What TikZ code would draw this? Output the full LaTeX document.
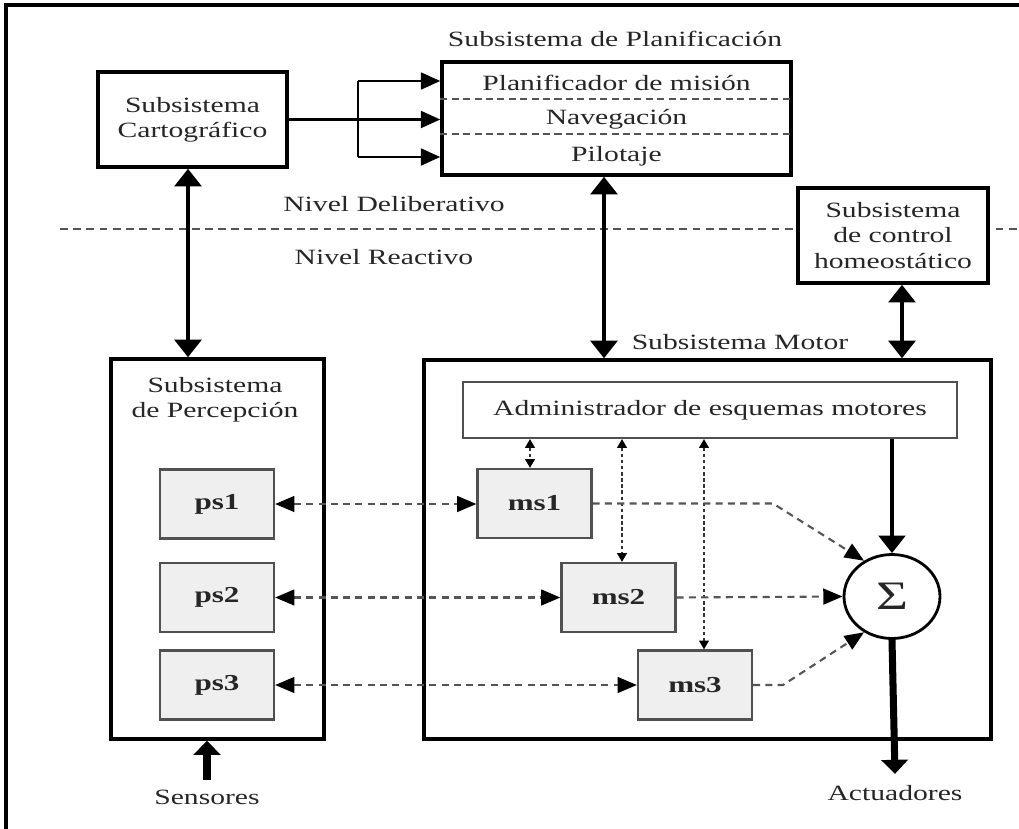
\documentclass[tikz,border=0pt]{standalone}
\usepackage{fontspec}
\setmainfont{Liberation Serif}[FakeStretch=1.36]
\usetikzlibrary{arrows.meta,shapes.geometric,calc}
\definecolor{ink}{HTML}{262626}
\definecolor{dashgray}{HTML}{555555}
\definecolor{schemafill}{HTML}{EFEFEF}
\definecolor{schemaline}{HTML}{505050}

\begin{document}
\begin{tikzpicture}[x=0.02cm, y=-0.02cm,
  font=\fontsize{12.4}{14.4}\selectfont, text=ink,
  outerbox/.style={draw=black, line width=2pt, fill=white, inner sep=0pt},
  schema/.style={draw=schemaline, line width=1.3pt, fill=schemafill, inner sep=0pt,
    minimum width=2.28cm, minimum height=1.38cm, font=\fontsize{13}{15}\selectfont\bfseries},
  adminbox/.style={draw=schemaline, line width=1.2pt, fill=white, inner sep=0pt},
  divider/.style={draw=dashgray, line width=1pt, dash pattern=on 4pt off 2.5pt},
  sepline/.style={draw=dashgray, line width=1pt, dash pattern=on 4.5pt off 3pt},
  bigtwo/.style={line width=2.5pt, {Triangle[length=10pt,width=15pt]}-{Triangle[length=10pt,width=15pt]}},
  bigone/.style={line width=2.5pt, -{Triangle[length=10pt,width=15pt]}},
  heavyone/.style={line width=4pt, -{Triangle[length=8pt,width=15pt]}},
  feed/.style={line width=1.6pt, -{Triangle[length=11pt,width=9.5pt]}},
  link/.style={draw=dashgray, line width=1.2pt, dash pattern=on 4pt off 3pt,
    {Triangle[length=11pt,width=9pt,color=black]}-{Triangle[length=11pt,width=9pt,color=black]}},
  toSum/.style={draw=dashgray, line width=1.2pt, dash pattern=on 4pt off 3pt,
    -{Triangle[length=11pt,width=9pt,color=black]}},
  select/.style={draw=black!80, line width=1pt, dash pattern=on 2pt off 1.5pt,
    {Triangle[length=5pt,width=5.5pt,color=black]}-{Triangle[length=5pt,width=5.5pt,color=black]}}
]
\useasboundingbox (0,0) rectangle (1019,829);

% page frame
\draw[line width=1.8pt] (6,829) -- (6,5) -- (1019,5);

% boundary between the deliberative and reactive levels
\coordinate (sepL) at (60,229);
\coordinate (sepR) at (1019,229);
\draw[sepline] (sepL) -- (sepR);
\node (delib) at (394,204) {Nivel Deliberativo};
\node (react) at (384,257) {Nivel Reactivo};

% deliberative level
\node[outerbox, minimum width=3.78cm, minimum height=1.9cm, align=center] (cart) at (192.5,119.5) {Subsistema\\Cartográfico};
\node[outerbox, minimum width=6.98cm, minimum height=2.26cm] (plan) at (616.5,118.5) {};
\node (plantitle) at (615,39) {Subsistema de Planificación};
\node (mision) at (616.5,83) {Planificador de misión};
\node (naveg) at (616.5,119) {Navegación};
\node (pilot) at (616.5,156) {Pilotaje};
\coordinate (div1) at (0,99);
\coordinate (div2) at (0,134);
\draw[divider] (plan.west |- div1) -- (plan.east |- div1);
\draw[divider] (plan.west |- div2) -- (plan.east |- div2);

% cartographic output fanning into the three planning layers
\coordinate (b1) at (358,81);
\coordinate (b3) at (358,157);
\draw[feed] (cart.east) -- (cart.east -| plan.west);
\draw[line width=1.6pt] (b1) -- (b3);
\draw[feed] (b1) -- (b1 -| plan.west);
\draw[feed] (b3) -- (b3 -| plan.west);

% homeostatic control
\node[outerbox, minimum width=3.8cm, minimum height=1.9cm, align=center] (homeo) at (893,235.5) {Subsistema\\de control\\homeostático};

% reactive level
\node[outerbox, minimum width=4.26cm, minimum height=7.6cm] (perc) at (217.5,549) {};
\node[align=center] (perctxt) at (215,400) {Subsistema\\de Percepción};
\node[outerbox, minimum width=11.34cm, minimum height=7.58cm] (motor) at (707.5,549.5) {};
\node (motortxt) at (740,342) {Subsistema Motor};
\node[adminbox, minimum width=9.88cm, minimum height=1.12cm] (admin) at (710,410) {Administrador de esquemas motores};

\node[schema] (ps1) at (217,504) {ps1};
\node[schema] (ps2) at (217,597.5) {ps2};
\node[schema] (ps3) at (217,685) {ps3};
\node[schema] (ms1) at (534.5,503.5) {ms1};
\node[schema] (ms2) at (618.5,597.5) {ms2};
\node[schema] (ms3) at (695,685) {ms3};

\node[ellipse, draw=black, line width=1.6pt, fill=white, minimum width=1.92cm, minimum height=1.68cm, inner sep=0pt,
  font=\fontsize{23}{23}\selectfont] (sum) at (892,596.5) {Σ};

% links between levels
\coordinate (pm) at (604,0);
\coordinate (hm) at (902,0);
\draw[bigtwo] ([xshift=-0.09cm]cart.south) -- ([xshift=-0.09cm]perc.north -| cart.south);
\draw[bigtwo] (plan.south -| pm) -- (motor.north -| pm);
\draw[bigtwo] (homeo.south -| hm) -- (motor.north -| hm);

% perceptual and motor schemas
\draw[link] (ps1.east) -- (ps1.east -| ms1.west);
\draw[link] (ps2.east) -- (ps2.east -| ms2.west);
\draw[link] (ps3.east) -- (ps3.east -| ms3.west);

\coordinate (s1) at (530,0);
\coordinate (s2) at (622,0);
\coordinate (s3) at (704,0);
\draw[select] (admin.south -| s1) -- (ms1.north -| s1);
\draw[select] (admin.south -| s2) -- (ms2.north -| s2);
\draw[select] (admin.south -| s3) -- (ms3.north -| s3);

\coordinate (k1) at (773,0);
\coordinate (k3) at (783,0);
\draw[toSum] (ms1.east) -- (ms1.east -| k1) -- (sum.128);
\draw[toSum] (ms2.east) -- (sum.west);
\draw[toSum] (ms3.east) -- (ms3.east -| k3) -- (sum.232);

\draw[bigone] (admin.south -| sum.north) -- (sum.north);

% inputs and outputs
\node (sens) at (207,797) {Sensores};
\node (act) at (895,793) {Actuadores};
\draw[heavyone] ([yshift=2pt]sens.north) -- (sens.north |- perc.south);
\draw[heavyone] (sum.south) -- ([yshift=3pt]act.north);
\end{tikzpicture}
\end{document}
